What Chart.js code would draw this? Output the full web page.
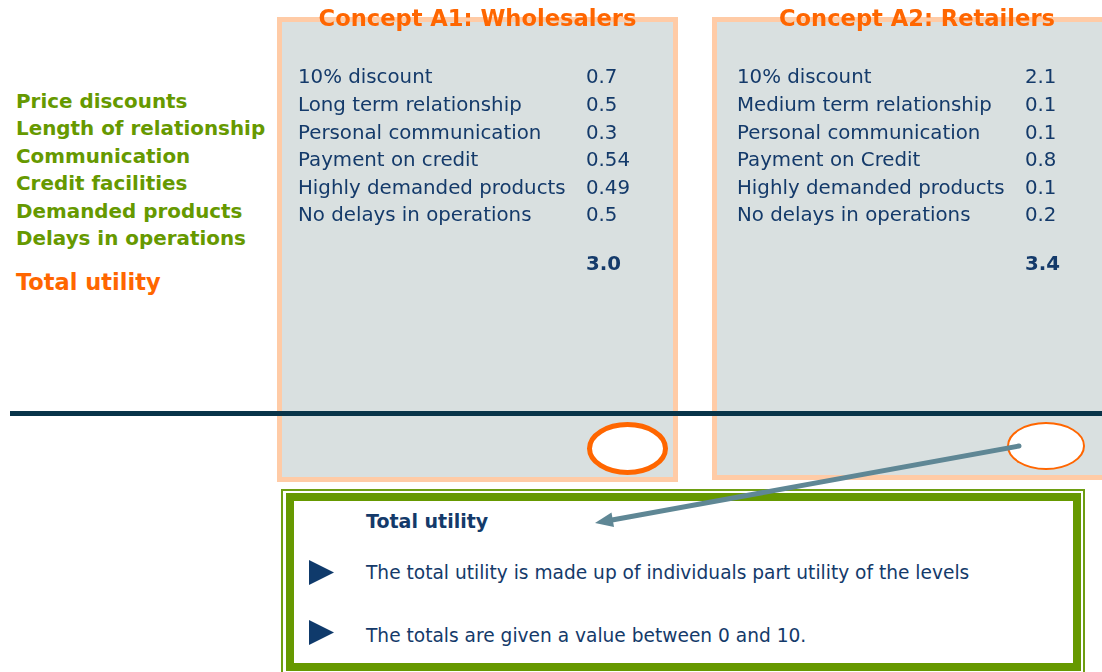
<!DOCTYPE html>
<html>
<head>
<meta charset="utf-8">
<script src="https://cdn.jsdelivr.net/npm/chart.js@4/dist/chart.umd.min.js"></script>
<style>
  html, body { margin: 0; padding: 0; background: #ffffff; }
  body { width: 1102px; height: 672px; position: relative; overflow: hidden; font-family: "DejaVu Sans", Verdana, sans-serif; }
  .abs { position: absolute; }
  .panel { position: absolute; box-sizing: border-box; border: 5px solid #FFCBA6; background: #D9E0E0; }
  .title { position: absolute; top: 7px; font-weight: bold; font-size: 22.6px; line-height: 1; color: #FF6600; white-space: nowrap; text-align: center; }
  #attrs { left: 16px; top: 87.7px; font-weight: bold; font-size: 19.9px; line-height: 27.5px; color: #669900; white-space: nowrap; }
  #totalLbl { left: 16px; top: 271px; font-weight: bold; font-size: 22.5px; line-height: 1; color: #FF6600; white-space: nowrap; }
  #hline { left: 10px; top: 411px; width: 1092px; height: 5px; background: #083449; }
  #boxOuter { left: 281px; top: 489px; width: 804px; height: 200px; box-sizing: border-box; border: 2px solid #6E9E12; }
  #boxInner { left: 286px; top: 493px; width: 795px; height: 178px; box-sizing: border-box; border: 8px solid #669900; background: #fff; }
  .boxtxt { position: absolute; left: 366px; font-size: 18.6px; line-height: 1; color: #143A6A; white-space: nowrap; }
  canvas { position: absolute; }
</style>
</head>
<body>
<div class="panel" style="left:277px; top:17px; width:401px; height:465px;"></div>
<div class="panel" style="left:712px; top:17px; width:410px; height:463px;"></div>
<canvas id="cA1" width="391" height="270" style="left:282px; top:22px;"></canvas>
<canvas id="cA2" width="400" height="270" style="left:717px; top:22px;"></canvas>
<div class="title" id="tA1" style="left:277px; width:401px;"></div>
<div class="title" id="tA2" style="left:712px; width:410px;"></div>
<div class="abs" id="attrs"></div>
<div class="abs" id="totalLbl"></div>
<div class="abs" id="hline"></div>
<div class="abs" id="boxOuter"></div>
<div class="abs" id="boxInner"></div>
<div class="boxtxt" id="boxTitle" style="top:512px; font-weight:bold; font-size:19px;"></div>
<div class="boxtxt" id="bullet1" style="top:564.3px;"></div>
<div class="boxtxt" id="bullet2" style="top:627.3px;"></div>
<svg class="abs" style="left:0; top:0;" width="1102" height="672">
  <ellipse cx="627.5" cy="448.5" rx="38" ry="24" fill="#ffffff" stroke="#FF6600" stroke-width="5"/>
  <ellipse cx="1046" cy="446" rx="38" ry="23" fill="#ffffff" stroke="#FF6600" stroke-width="2"/>
  <line x1="1019" y1="446" x2="612" y2="520" stroke="#5F8795" stroke-width="5" stroke-linecap="round"/>
  <polygon points="595,523 614,527 611.5,512.5" fill="#5F8795"/>
  <polygon points="309,560 334,572.5 309,585" fill="#0F3A6B"/>
  <polygon points="309,620 334,632.5 309,645" fill="#0F3A6B"/>
</svg>
<script>
// ---- data ----
const conceptTitles = ["Concept A1: Wholesalers", "Concept A2: Retailers"];
const attributes = ["Price discounts", "Length of relationship", "Communication", "Credit facilities", "Demanded products", "Delays in operations"];
const totalLabel = "Total utility";
const levelsA1 = ["10% discount", "Long term relationship", "Personal communication", "Payment on credit", "Highly demanded products", "No delays in operations"];
const utilA1 = [0.7, 0.5, 0.3, 0.54, 0.49, 0.5];
const totalA1 = 3.0;
const levelsA2 = ["10% discount", "Medium term relationship", "Personal communication", "Payment on Credit", "Highly demanded products", "No delays in operations"];
const utilA2 = [2.1, 0.1, 0.1, 0.8, 0.1, 0.2];
const totalA2 = 3.4;
const noteTitle = "Total utility";
const notes = ["The total utility is made up of individuals part utility of the levels", "The totals are given a value between 0 and 10."];

// ---- static text ----
document.getElementById('tA1').textContent = conceptTitles[0];
document.getElementById('tA2').textContent = conceptTitles[1];
document.getElementById('attrs').innerHTML = attributes.map(a => '<div>' + a + '</div>').join('');
document.getElementById('totalLbl').textContent = totalLabel;
document.getElementById('boxTitle').textContent = noteTitle;
document.getElementById('bullet1').textContent = notes[0];
document.getElementById('bullet2').textContent = notes[1];

const NAVY = '#143A6A';
const FONT = '"DejaVu Sans", Verdana, sans-serif';
const FSIZE = 19.8;
const VALUE_OFFSET = 288;

const valuePlugin = {
  id: 'valueColumn',
  afterDatasetsDraw(chart, args, opts) {
    const ctx = chart.ctx;
    const meta = chart.getDatasetMeta(0);
    const yScale = chart.scales.y;
    const x = yScale.left + VALUE_OFFSET;
    ctx.save();
    ctx.fillStyle = NAVY;
    ctx.textAlign = 'left';
    ctx.textBaseline = 'middle';
    ctx.font = FSIZE + 'px ' + FONT;
    meta.data.forEach((el, i) => {
      ctx.fillText(String(chart.data.datasets[0].data[i]), x, el.y);
    });
    ctx.font = 'bold ' + FSIZE + 'px ' + FONT;
    ctx.fillText(opts.total.toFixed(1), x, yScale.getPixelForValue(6.76));
    ctx.restore();
  }
};

function makeChart(id, levels, values, total, padLeft) {
  return new Chart(document.getElementById(id), {
    type: 'bar',
    data: {
      labels: levels,
      datasets: [{ data: values, backgroundColor: 'rgba(0,0,0,0)', borderWidth: 0 }]
    },
    options: {
      indexAxis: 'y',
      responsive: false,
      animation: false,
      devicePixelRatio: 1,
      layout: { padding: { left: padLeft, right: 0, top: 42.45, bottom: 61.95 } },
      plugins: {
        legend: { display: false },
        tooltip: { enabled: false },
        valueColumn: { total: total }
      },
      scales: {
        x: { display: false, min: 0, max: 3 },
        y: {
          afterFit(scale) { scale.width = VALUE_OFFSET; },
          grid: { display: false, drawTicks: false },
          border: { display: false },
          ticks: {
            crossAlign: 'far',
            autoSkip: false,
            padding: 0,
            color: NAVY,
            font: { family: FONT, size: FSIZE }
          }
        }
      }
    },
    plugins: [valuePlugin]
  });
}

makeChart('cA1', levelsA1, utilA1, totalA1, 16);
makeChart('cA2', levelsA2, utilA2, totalA2, 20);
</script>
</body>
</html>
